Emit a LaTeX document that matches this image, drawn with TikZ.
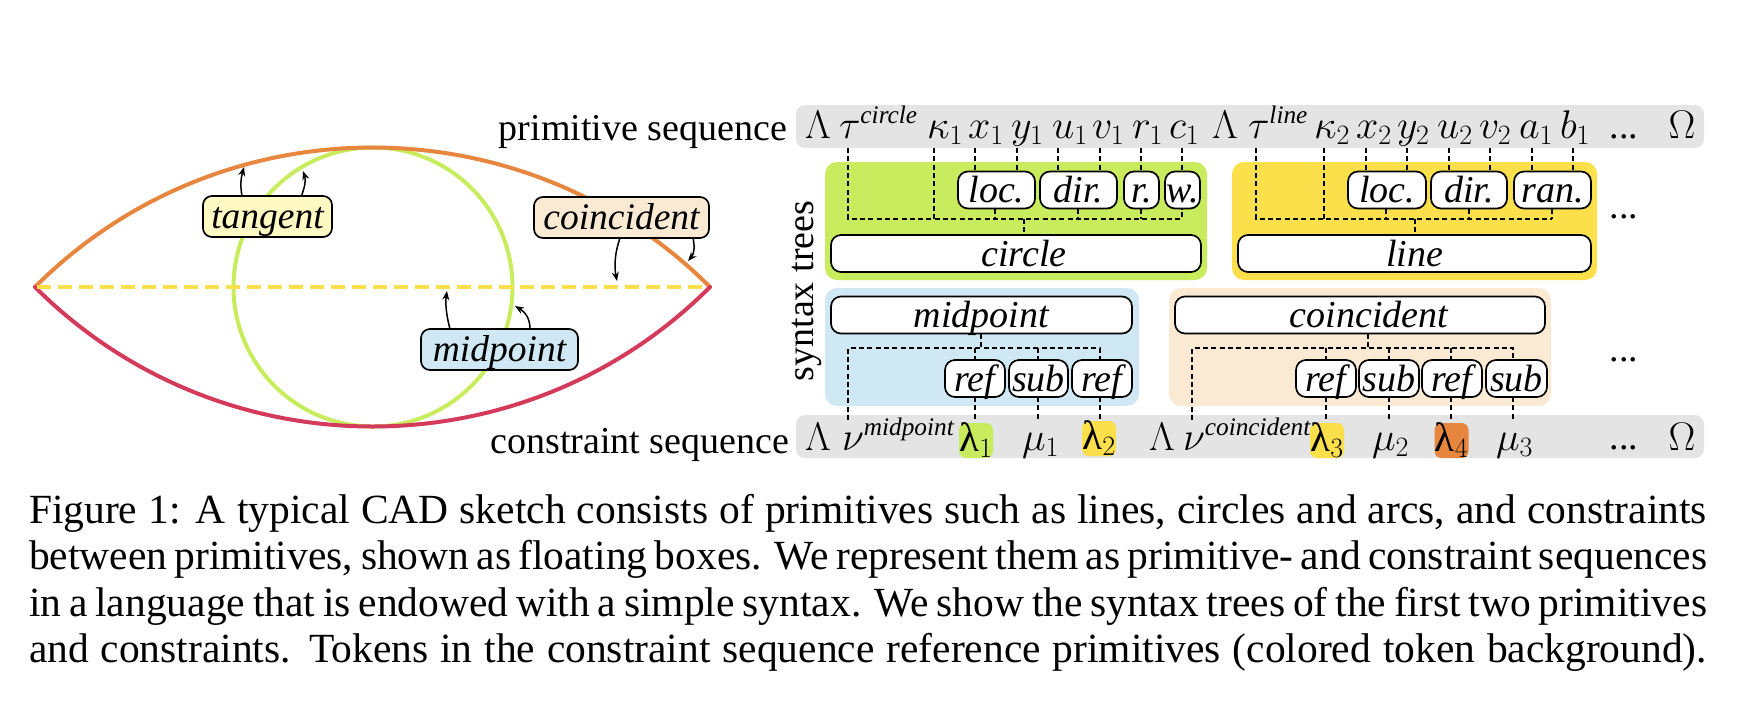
\RequirePackage{fix-cm}
\documentclass[tikz,border=0pt]{standalone}
\usepackage{amsmath}
\usepackage[no-math]{fontspec}
\setmainfont{Liberation Serif}
\newfontfamily\lamfont{Liberation Serif}
\usetikzlibrary{arrows.meta}
\definecolor{cgreen}{HTML}{C9EC5F}
\definecolor{cyellow}{HTML}{FBDF4B}
\definecolor{cblue}{HTML}{CFE8F3}
\definecolor{ctan}{HTML}{FBEAD3}
\definecolor{cpale}{HTML}{FFF9C4}
\definecolor{corange}{HTML}{E6863F}
\definecolor{cred}{HTML}{D43A5A}
\definecolor{cbar}{HTML}{E4E4E4}
\newcommand{\labfont}{\fontsize{38}{40}\selectfont}
\newcommand{\mathfnt}{\fontsize{40}{44}\selectfont}
\newcommand{\capline}[1]{\hbox to 1678pt{#1}}
\newcommand{\suplab}[1]{\hbox{\fontsize{25.3}{26}\selectfont\itshape #1}}
\newcommand{\lamtok}[1]{{\fontsize{41}{44}\selectfont\lamfont λ}$_{#1}$}
\tikzset{
  panel/.style={rounded corners=12pt, inner sep=0, outer sep=0},
  seqbar/.style={fill=cbar, rounded corners=9pt, inner sep=0, outer sep=0, minimum height=43pt, minimum width=908pt},
  tree/.style={draw=black, line width=1.7pt, fill=white, rounded corners=10pt, inner sep=0, outer sep=0, text height=31pt, text depth=6pt, font=\labfont\itshape},
  tag/.style={draw=black, line width=1.7pt, rounded corners=9pt, inner sep=0, outer sep=0, text height=32pt, text depth=9pt, font=\fontsize{37.5}{40}\selectfont\itshape},
  tok/.style={anchor=base west, inner sep=0, outer sep=0, font=\mathfnt},
  tokc/.style={anchor=base, inner sep=0, outer sep=0, font=\mathfnt},
  hilite/.style={rounded corners=7pt, inner sep=0, outer sep=0, minimum width=34pt, text height=28pt, text depth=7pt, font=\mathfnt},
  txt/.style={anchor=base, inner sep=0, outer sep=0, font=\labfont},
  capt/.style={anchor=base west, inner sep=0, outer sep=0, font=\fontsize{41.5}{46}\selectfont},
  dsh/.style={line width=1.6pt, dash pattern=on 5pt off 3.3pt},
  arr/.style={line width=1.5pt, -{Stealth[length=9pt,width=7pt]}},
  curve/.style={line width=4pt, line cap=round}
}
\begin{document}
\begin{tikzpicture}[x=1pt,y=-1pt]
\useasboundingbox (0,0) rectangle (1750,716);
% ---------- sketch
\draw[curve, draw=cgreen] (373,287) circle[radius=139.5];
\draw[curve, draw=corange] (35,287) .. controls (221,101) and (524,101) .. (710,287);
\draw[curve, draw=cred] (35,287) .. controls (221,473) and (524,473) .. (710,287);
\draw[line width=4pt, draw=cyellow, dash pattern=on 14pt off 7pt] (37,287) -- (708,287);
\node[tag, fill=cpale, minimum width=129pt] (tangent) at (267.5,216.5) {tangent};
\node[tag, fill=ctan, minimum width=175pt] (coinc) at (621.5,217.5) {coincident};
\node[tag, fill=cblue, minimum width=157pt] (midp) at (499.5,349.5) {midpoint};
\coordinate (ta) at (244,167);
\coordinate (tb) at (303,171);
\coordinate (ca) at (617,281);
\coordinate (cb) at (688,261);
\coordinate (ma) at (447,291);
\coordinate (mb) at (515,306);
\draw[arr] ([xshift=39pt]tangent.north west) .. controls (240,185) and (241,178) .. (ta);
\draw[arr] ([xshift=98.5pt]tangent.north west) .. controls (305,186) and (306,180) .. (tb);
\draw[arr] ([xshift=86pt]coinc.south west) .. controls (615,252) and (614,266) .. (ca);
\draw[arr] ([xshift=159pt]coinc.south west) .. controls (695,247) and (694,254) .. (cb);
\draw[arr] ([xshift=29pt]midp.north west) .. controls (447,318) and (445,305) .. (ma);
\draw[arr] ([xshift=109pt]midp.north west) .. controls (530,318) and (525,312) .. (mb);
% ---------- bars and panels
\node[seqbar] (topbar) at (1250,126.5) {};
\node[seqbar] (botbar) at (1250,436.5) {};
\filldraw[panel, fill=cgreen, draw=none] (825,162) rectangle (1207,280);
\filldraw[panel, fill=cyellow, draw=none] (1232,162) rectangle (1597,280);
\filldraw[panel, fill=cblue, draw=none] (825,288) rectangle (1139,406);
\filldraw[panel, fill=ctan, draw=none] (1169,288) rectangle (1551,406);
% ---------- named positions of the dashed connectors
\foreach \n/\x in {aT/848,aK/934,aX/975,aY/1017,aU/1058,aV/1100,aR/1141,aC/1182,
                   bT/1256,bK/1324,bX/1366,bY/1407,bU/1449,bV/1490,bA/1532,bB/1573}
  \coordinate (\n) at (\x,148);
\foreach \n/\x in {cN/848,cL/975,cM/1038,cP/1100,dN/1192,dL/1326,dM/1389,dP/1451,dQ/1513}
  \coordinate (\n) at (\x,420);
\coordinate (j1) at (1024,219);
\coordinate (j2) at (1415,219);
\coordinate (j3) at (981,348);
\coordinate (j4) at (1368,348);
\coordinate (e1) at (995,219);
\coordinate (e2) at (1078,219);
\coordinate (e3) at (1386,219);
\coordinate (e4) at (1469,219);
\coordinate (e5) at (1552,219);
% ---------- tree boxes
\node[tree, minimum width=77pt] (loc1) at (996.5,190) {loc.};
\node[tree, minimum width=77pt] (dir1) at (1078.5,190) {dir.};
\node[tree, minimum width=35pt] (r1) at (1141.5,190) {r.};
\node[tree, minimum width=35pt] (w1) at (1182.5,190) {w.};
\node[tree, minimum width=370pt] (circ) at (1016,253.5) {\hspace{16pt}circle};
\node[tree, minimum width=78pt] (loc2) at (1387,190) {loc.};
\node[tree, minimum width=76pt] (dir2) at (1469,190) {dir.};
\node[tree, minimum width=77pt] (ran2) at (1552.5,190) {ran.};
\node[tree, minimum width=353pt] (line2) at (1414.5,253.5) {line};
\node[tree, minimum width=301pt] (midt) at (981.5,315) {midpoint};
\node[tree, minimum width=60pt] (ref1) at (975,378.5) {ref};
\node[tree, minimum width=59pt] (sub1) at (1038.5,378.5) {sub};
\node[tree, minimum width=60pt] (ref2) at (1102,378.5) {ref};
\node[tree, minimum width=370pt] (coit) at (1360,315) {\hspace{18pt}coincident};
\node[tree, minimum width=60pt] (ref3) at (1326,378.5) {ref};
\node[tree, minimum width=60pt] (sub3) at (1389,378.5) {sub};
\node[tree, minimum width=60pt] (ref4) at (1452,378.5) {ref};
\node[tree, minimum width=61pt] (sub4) at (1516.5,378.5) {sub};
% ---------- dashed connectors
\draw[dsh] (aT) -- (aT |- j1) -- (aC |- j1) -- (aC |- w1.south);
\draw[dsh] (aK) -- (aK |- j1);
\draw[dsh] (aX) -- (aX |- loc1.north);
\draw[dsh] (aY) -- (aY |- loc1.north);
\draw[dsh] (aU) -- (aU |- dir1.north);
\draw[dsh] (aV) -- (aV |- dir1.north);
\draw[dsh] (aR) -- (aR |- r1.north);
\draw[dsh] (aC) -- (aC |- w1.north);
\draw[dsh] (aR |- r1.south) -- (aR |- j1);
\draw[dsh] (e1 |- loc1.south) -- (e1);
\draw[dsh] (e2 |- dir1.south) -- (e2);
\draw[dsh] (j1) -- (j1 |- circ.north);
\draw[dsh] (bT) -- (bT |- j2) -- (e5);
\draw[dsh] (bK) -- (bK |- j2);
\draw[dsh] (bX) -- (bX |- loc2.north);
\draw[dsh] (bY) -- (bY |- loc2.north);
\draw[dsh] (bU) -- (bU |- dir2.north);
\draw[dsh] (bV) -- (bV |- dir2.north);
\draw[dsh] (bA) -- (bA |- ran2.north);
\draw[dsh] (bB) -- (bB |- ran2.north);
\draw[dsh] (e3 |- loc2.south) -- (e3);
\draw[dsh] (e4 |- dir2.south) -- (e4);
\draw[dsh] (e5 |- ran2.south) -- (e5);
\draw[dsh] (j2) -- (j2 |- line2.north);
\draw[dsh] (cN) -- (cN |- j3) -- (cP |- j3) -- (cP |- ref2.north);
\draw[dsh] (cL |- j3) -- (cL |- ref1.north);
\draw[dsh] (cM |- j3) -- (cM |- sub1.north);
\draw[dsh] (j3 |- midt.south) -- (j3);
\draw[dsh] (cL |- ref1.south) -- (cL);
\draw[dsh] (cM |- sub1.south) -- (cM);
\draw[dsh] (cP |- ref2.south) -- (cP);
\draw[dsh] (dN) -- (dN |- j4) -- (dQ |- j4) -- (dQ |- sub4.north);
\draw[dsh] (dL |- j4) -- (dL |- ref3.north);
\draw[dsh] (dM |- j4) -- (dM |- sub3.north);
\draw[dsh] (dP |- j4) -- (dP |- ref4.north);
\draw[dsh] (j4 |- coit.south) -- (j4);
\draw[dsh] (dL |- ref3.south) -- (dL);
\draw[dsh] (dM |- sub3.south) -- (dM);
\draw[dsh] (dP |- ref4.south) -- (dP);
\draw[dsh] (dQ |- sub4.south) -- (dQ);
% ---------- top tokens
\node[tokc] (la1) at (818,138) {$\Lambda$};
\node[tok] (tau1) at (839,138) {$\tau^{\suplab{circle}}$};
\node[tok] (k1) at (927,138) {$\kappa_1$};
\node[tok] (x1) at (968,138) {$x_1$};
\node[tok] (y1) at (1011,138) {$y_1$};
\node[tok] (u1) at (1052,138) {$u_1$};
\node[tok] (v1) at (1092,138) {$v_1$};
\node[tok] (rr1) at (1132,138) {$r_1$};
\node[tok] (c1) at (1169,138) {$c_1$};
\node[tokc] (la2) at (1225,138) {$\Lambda$};
\node[tok] (tau2) at (1248,138) {$\tau^{\suplab{line}}$};
\node[tok] (k2) at (1314,138) {$\kappa_2$};
\node[tok] (x2) at (1356,138) {$x_2$};
\node[tok] (y2) at (1397,138) {$y_2$};
\node[tok] (u2) at (1437,138) {$u_2$};
\node[tok] (v2) at (1479,138) {$v_2$};
\node[tok] (a1) at (1519,138) {$a_1$};
\node[tok] (b1) at (1560,138) {$b_1$};
\node[txt] (dots1) at (1624,138) {...};
\node[tokc] (om1) at (1682,138) {$\Omega$};
% ---------- bottom tokens
\node[tokc] (la3) at (818,450) {$\Lambda$};
\node[tok] (nu1) at (842,450) {$\nu^{\suplab{midpoint}}$};
\node[hilite, fill=cgreen] (l1) at (976,440.5) {\lamtok{1}};
\node[tok] (m1) at (1022,450) {$\mu_1$};
\node[hilite, fill=cyellow] (l2) at (1099,438.5) {\lamtok{2}};
\node[tokc] (la4) at (1162,450) {$\Lambda$};
\node[tok] (nu2) at (1183,450) {$\nu^{\suplab{coincident}}$};
\node[hilite, fill=cyellow] (l3) at (1327,440.5) {\lamtok{3}};
\node[tok] (m2) at (1372,450) {$\mu_2$};
\node[hilite, fill=corange] (l4) at (1451.5,440.5) {\lamtok{4}};
\node[tok] (m3) at (1496,450) {$\mu_3$};
\node[txt] (dots2) at (1624,449) {...};
\node[tokc] (om2) at (1682,450) {$\Omega$};
% ---------- texts
\node[txt, anchor=base east] (primlab) at (787,140) {primitive sequence};
\node[txt, anchor=base east] (conslab) at (789,453) {constraint sequence};
\node[txt, rotate=90] (synt) at (813,291) {syntax trees};
\node[txt] (dots3) at (1624,218) {...};
\node[txt] (dots4) at (1624,361) {...};
% ---------- caption
\node[capt] (cap1) at (29,523) {\capline{Figure 1: A typical CAD sketch consists of primitives such as lines, circles and arcs, and constraints}};
\node[capt] (cap2) at (29,569) {\capline{between primitives, shown as floating boxes. We represent them as primitive- and constraint sequences}};
\node[capt] (cap3) at (29,616) {\capline{in a language that is endowed with a simple syntax. We show the syntax trees of the first two primitives}};
\node[capt] (cap4) at (29,662) {\capline{and constraints. Tokens in the constraint sequence reference primitives (colored token background).}};
\end{tikzpicture}
\end{document}
